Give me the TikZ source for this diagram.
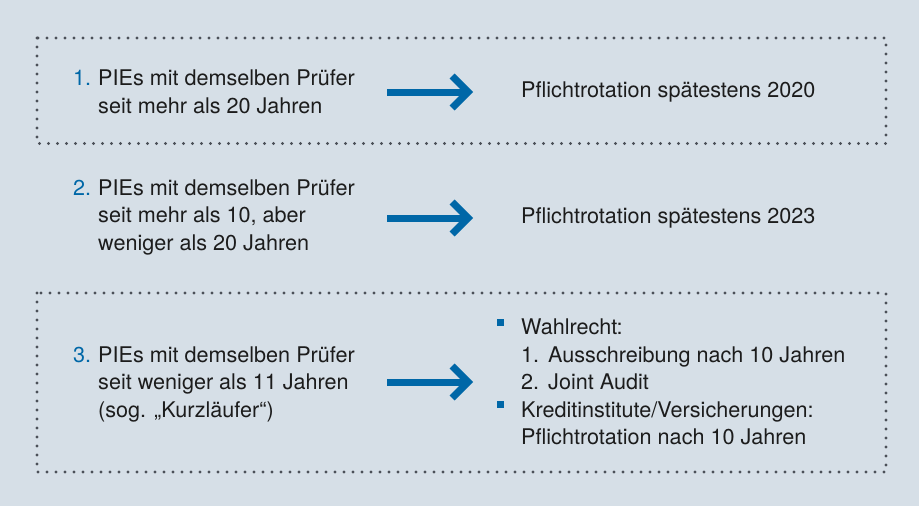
\documentclass[tikz,border=0pt]{standalone}
\usepackage{fontspec}
\setmainfont{TeX Gyre Heros}
\usetikzlibrary{arrows.meta}
\definecolor{bg}{RGB}{214,223,231}
\definecolor{dotc}{RGB}{75,80,88}
\definecolor{blu}{RGB}{0,103,167}
\definecolor{txt}{RGB}{28,28,28}
\newcommand{\numitem}[1]{\makebox[25pt][l]{\textcolor{blu}{#1}}}
\newcommand{\bsq}{\makebox[24pt][l]{\textcolor{blu}{\rule[9pt]{7pt}{7pt}}}}
\newcommand{\bsp}{\makebox[24pt][l]{}}
\begin{document}
\begin{tikzpicture}[x=1pt,y=-1pt,
  dotbox/.style={draw=dotc,line width=3.4pt,line cap=round,dash pattern=on 0pt off 9pt},
  txtnode/.style={anchor=west,inner sep=0pt,text=txt,font=\fontsize{21.6}{27.5}\selectfont,align=left},
  bigarrow/.style={draw=blu,line width=7pt,-{Straight Barb[length=16pt,width=32pt,line join=miter]}}]
\fill[bg] (0,0) rectangle (919,506);
\useasboundingbox (0,0) rectangle (919,506);

\draw[dotbox] (37,38) rectangle (886,143.5);
\draw[dotbox] (37,293) rectangle (886,472);

\node[txtnode] (l1) at (73,94) {\begin{tabular}{@{}l@{}}\numitem{1.}PIEs mit demselben Prüfer\\\numitem{}seit mehr als 20 Jahren\end{tabular}};
\node[txtnode] (l2) at (73,217) {\begin{tabular}{@{}l@{}}\numitem{2.}PIEs mit demselben Prüfer\\\numitem{}seit mehr als 10, aber\\\numitem{}weniger als 20 Jahren\end{tabular}};
\node[txtnode] (l3) at (73,384) {\begin{tabular}{@{}l@{}}\numitem{3.}PIEs mit demselben Prüfer\\\numitem{}seit weniger als 11 Jahren\\\numitem{}(sog. „Kurzläufer“)\end{tabular}};

\node[txtnode] (r1) at (521,92) {Pflichtrotation spätestens 2020};
\node[txtnode] (r2) at (521,218) {Pflichtrotation spätestens 2023};
\node[txtnode] (r3) at (497,384) {\begin{tabular}{@{}l@{}}\bsq Wahlrecht:\\\bsp 1.\hspace{9pt}Ausschreibung nach 10 Jahren\\\bsp 2.\hspace{9pt}Joint Audit\\\bsq Kreditinstitute/Versicherungen:\\\bsp Pflichtrotation nach 10 Jahren\end{tabular}};

\coordinate (a1s) at (387,92); \coordinate (a1e) at (473,92);
\coordinate (a2s) at (387,218); \coordinate (a2e) at (473,218);
\coordinate (a3s) at (387,382); \coordinate (a3e) at (473,382);
\draw[bigarrow] (a1s) -- (a1e);
\draw[bigarrow] (a2s) -- (a2e);
\draw[bigarrow] (a3s) -- (a3e);
\end{tikzpicture}
\end{document}
